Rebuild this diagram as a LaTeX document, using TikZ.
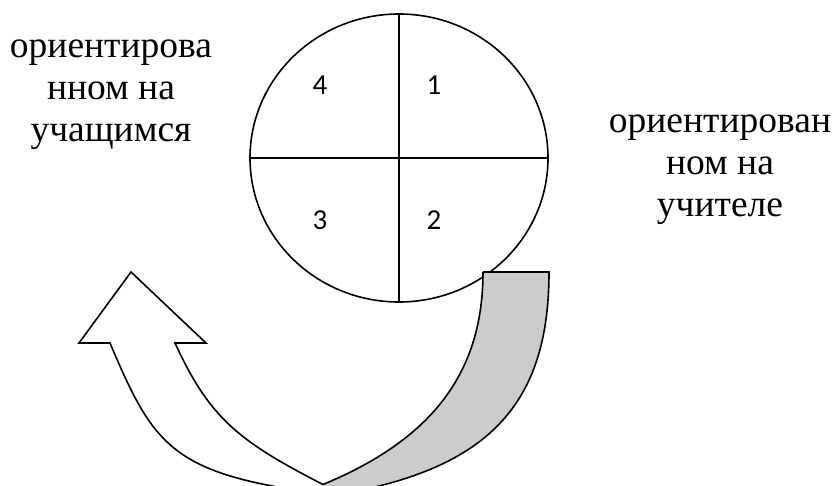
\documentclass[tikz,border=0pt]{standalone}
\usepackage{fontspec}
\setmainfont{Liberation Serif}
\newfontfamily\numfont{Carlito}
\usetikzlibrary{shapes.geometric}
\definecolor{bandgray}{RGB}{204,204,204}
\begin{document}
\begin{tikzpicture}[x=1pt,y=-1pt,line width=1.6pt,
  lbl/.style={font=\fontsize{37.5}{42}\selectfont,anchor=base,inner sep=0pt},
  num/.style={font=\numfont\fontsize{29}{32}\selectfont,anchor=base,inner sep=0pt},
  circ/.style={draw,ellipse,inner sep=0pt,minimum width=298pt,minimum height=288pt}]
\useasboundingbox (0,0) rectangle (835,486);
\clip (0,0) rectangle (835,486);
% circle with quadrants
\node[circ] (c) at (399,158) {};
\draw (c.north) -- (c.south);
\draw (c.west) -- (c.east);
\node[num] (n4) at (320,95) {4};
\node[num] (n1) at (434,95) {1};
\node[num] (n3) at (320,230) {3};
\node[num] (n2) at (434,230) {2};
% left text
\node[lbl] (l1) at (111,58) {ориентирова};
\node[lbl] (l2) at (111,100) {нном на};
\node[lbl] (l3) at (111,142) {учащимся};
% right text
\node[lbl] (r1) at (720,133) {ориентирован};
\node[lbl] (r2) at (720,175) {ном на};
\node[lbl] (r3) at (720,217) {учителе};
% gray back band
\fill[bandgray] (483,272) -- (549,272) .. controls (549,390) and (501,454.3) .. (383,485)
  -- (323,500) -- (323,484.5) .. controls (433,438.9) and (483,372) .. (483,272) -- cycle;
\draw (483,272) -- (549,272) .. controls (549,390) and (501,454.3) .. (383,485) -- (343,495);
\draw (483,272) .. controls (483,372) and (433,438.9) .. (323,484.5);
% white curved arrow
\draw (307,493) -- (267,485) .. controls (167,465) and (148,433) .. (110,343)
  -- (79,343) -- (131,272) -- (206,343) -- (175,343)
  .. controls (209.5,418) and (238,440.8) .. (323,484.5);
\end{tikzpicture}
\end{document}
